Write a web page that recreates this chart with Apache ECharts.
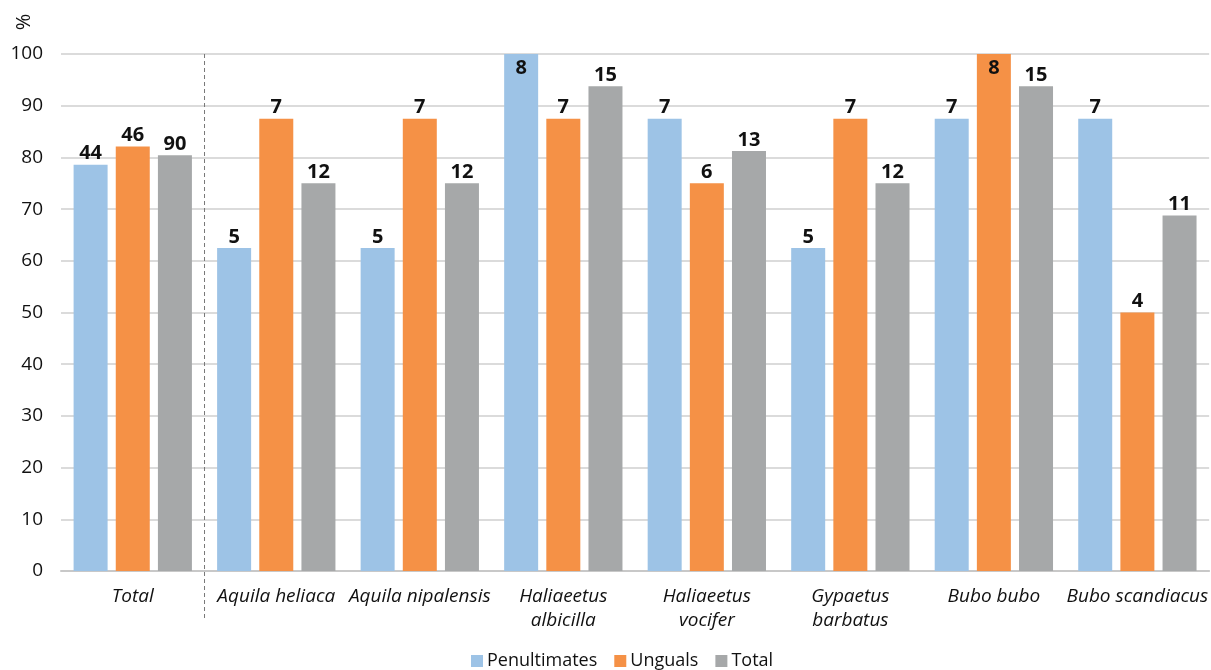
<!DOCTYPE html>
<html><head><meta charset="utf-8">
<script src="https://cdn.jsdelivr.net/npm/echarts@6/dist/echarts.min.js"></script>
<style>html,body{margin:0;padding:0;background:#fff}#c{width:1211px;height:670px}</style>
</head><body><div id="c"></div>
<script>
const categories = ['Total','Aquila heliaca','Aquila nipalensis','Haliaeetus\nalbicilla','Haliaeetus\nvocifer','Gypaetus\nbarbatus','Bubo bubo','Bubo scandiacus'];
const penultimates = [78.6, 62.5, 62.5, 100, 87.5, 62.5, 87.5, 87.5];
const unguals = [82.1, 87.5, 87.5, 87.5, 75, 87.5, 100, 50];
const totals = [80.4, 75, 75, 93.75, 81.25, 75, 93.75, 68.75];
const penultCounts = [44, 5, 5, 8, 7, 5, 7, 7];
const ungualCounts = [46, 7, 7, 7, 6, 7, 8, 4];
const totalCounts = [90, 12, 12, 15, 13, 12, 15, 11];
const yTicks = [0,10,20,30,40,50,60,70,80,90,100];
const yTitle = '%';

const FONT = '"Open Sans", "Liberation Sans", sans-serif';
const chart = echarts.init(document.getElementById('c'));

function mk(vals, counts) {
  return vals.map((v, i) => {
    const d = {value: v, count: counts[i]};
    if (v >= 100) d.label = {position: 'insideTop', distance: 4};
    return d;
  });
}
function series(name, vals, counts, color) {
  return {
    name, type: 'bar', barWidth: 34, barGap: '24%',
    data: mk(vals, counts),
    itemStyle: {color},
    label: {show: true, position: 'top', distance: 1, color: '#111', fontFamily: FONT, fontWeight: 'bold', fontSize: 20,
      formatter: p => p.data.count}
  };
}
chart.setOption({
  animation: false,
  textStyle: {fontFamily: FONT},
  grid: {left: 61, right: -2, top: 54, bottom: 99, containLabel: false},
  legend: {
    bottom: -5, left: 466, itemWidth: 12, itemHeight: 12, itemGap: 17,
    icon: 'rect',
    textStyle: {fontSize: 18, color: '#111', fontFamily: FONT, padding: [0,0,0,-1]},
    data: ['Penultimates','Unguals','Total']
  },
  xAxis: {
    type: 'category', data: categories,
    axisLine: {lineStyle: {color: '#c8c8c8', width: 2}},
    axisTick: {show: false},
    axisLabel: {fontSize: 19, fontStyle: 'italic', color: '#111', margin: 14, lineHeight: 24, interval: 0, fontFamily: FONT}
  },
  yAxis: {
    type: 'value', min: 0, max: 100, interval: 10,
    axisLine: {show: false}, axisTick: {show: false},
    axisLabel: {fontSize: 19, color: '#111', margin: 18, fontFamily: FONT,
      formatter: v => yTicks.includes(v) ? String(v) : ''},
    splitLine: {lineStyle: {color: '#cfcfcf', width: 1.5}}
  },
  series: [
    series('Penultimates', penultimates, penultCounts, '#9DC3E6'),
    series('Unguals', unguals, ungualCounts, '#F59146'),
    series('Total', totals, totalCounts, '#A6A8A9')
  ]
});
// dashed separator between the "Total" group and the species groups
const c0 = chart.convertToPixel({xAxisIndex: 0}, 0);
const c1 = chart.convertToPixel({xAxisIndex: 0}, 1);
const xs = (c0 + c1) / 2;
const yTop = chart.convertToPixel({yAxisIndex: 0}, 100);
chart.setOption({graphic: [
  {type: 'line', shape: {x1: xs, y1: yTop, x2: xs, y2: 618},
    style: {stroke: '#777', lineWidth: 1, lineDash: [4, 3]}, z: 10},
  {type: 'text', x: 24, y: 22, rotation: Math.PI / 2,
    style: {text: yTitle, font: '20px "Open Sans"', fill: '#111', align: 'center', verticalAlign: 'middle'}}
]});
</script></body></html>
